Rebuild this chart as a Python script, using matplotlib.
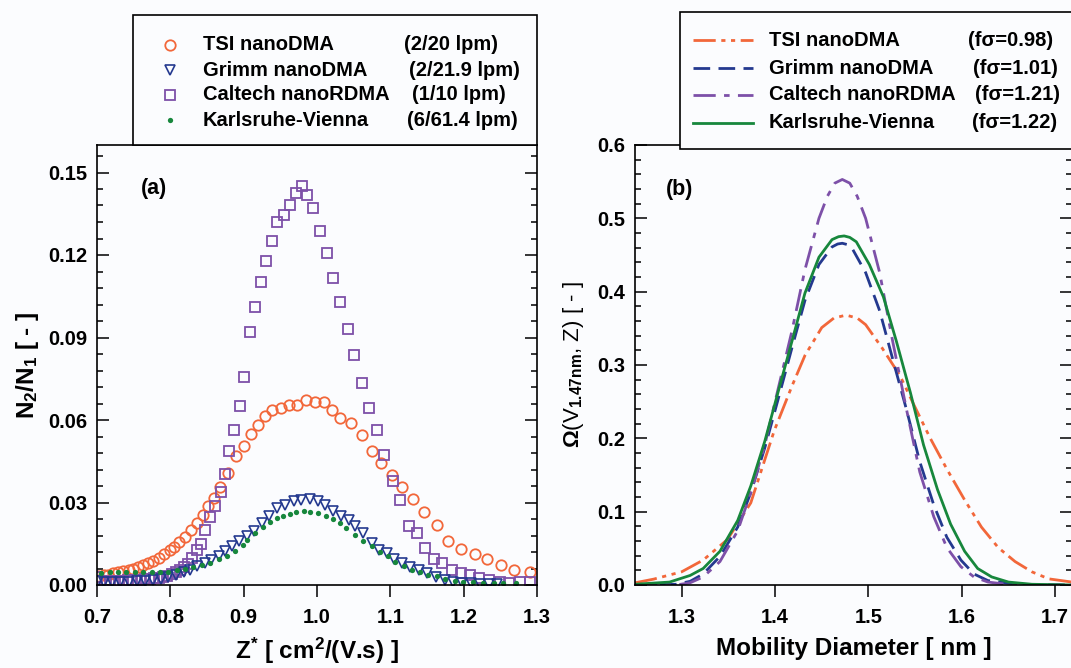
import matplotlib
matplotlib.use('Agg')
import matplotlib.pyplot as plt
from matplotlib.lines import Line2D
from matplotlib.patches import Rectangle
from matplotlib.ticker import MultipleLocator

plt.rcParams['font.family'] = ['Liberation Sans', 'DejaVu Sans']
plt.rcParams['font.weight'] = 'bold'
plt.rcParams['axes.labelweight'] = 'bold'
plt.rcParams['mathtext.fontset'] = 'custom'
plt.rcParams['mathtext.rm'] = 'Liberation Sans'
plt.rcParams['mathtext.bf'] = 'Liberation Sans:bold'
plt.rcParams['mathtext.it'] = 'Liberation Sans:italic'

# ---- panel (a): measured N2/N1 vs Z*
tsi_z = [0.702, 0.709, 0.715, 0.722, 0.729, 0.736, 0.743, 0.749, 0.756, 0.763,
         0.770, 0.777, 0.785, 0.791, 0.799, 0.805, 0.812, 0.820, 0.828, 0.836,
         0.844, 0.852, 0.860, 0.868, 0.879, 0.890, 0.900, 0.910, 0.920, 0.929,
         0.939, 0.951, 0.962, 0.973, 0.985, 0.997, 1.009, 1.020, 1.032, 1.046,
         1.061, 1.075, 1.087, 1.102, 1.116, 1.131, 1.146, 1.163, 1.179, 1.196,
         1.215, 1.232, 1.251, 1.269, 1.290]
tsi_n = [0.0032, 0.0035, 0.0038, 0.0042, 0.0046, 0.0050, 0.0055, 0.0059, 0.0065, 0.0072,
         0.0080, 0.0089, 0.0100, 0.0112, 0.0126, 0.0140, 0.0156, 0.0176, 0.0199, 0.0226,
         0.0255, 0.0286, 0.0318, 0.0357, 0.0407, 0.0468, 0.0504, 0.0550, 0.0583, 0.0615,
         0.0637, 0.0643, 0.0653, 0.0655, 0.0673, 0.0667, 0.0667, 0.0637, 0.0607, 0.0589,
         0.0546, 0.0488, 0.0444, 0.0401, 0.0356, 0.0313, 0.0264, 0.0220, 0.0159, 0.0131,
         0.0111, 0.0095, 0.0071, 0.0056, 0.0046]

grimm_z = [0.702, 0.709, 0.720, 0.731, 0.743, 0.754, 0.766, 0.777, 0.787, 0.797,
           0.808, 0.818, 0.827, 0.837, 0.847, 0.856, 0.866, 0.875, 0.884, 0.893,
           0.904, 0.914, 0.925, 0.935, 0.946, 0.956, 0.968, 0.978, 0.990, 1.001,
           1.011, 1.022, 1.033, 1.043, 1.052, 1.063, 1.075, 1.084, 1.095, 1.105,
           1.116, 1.127, 1.139, 1.150, 1.162, 1.174, 1.186, 1.198, 1.210, 1.222,
           1.234, 1.246]
grimm_n = [0.0014, 0.0010, 0.0010, 0.0010, 0.0012, 0.0014, 0.0016, 0.0020, 0.0023, 0.0030,
           0.0038, 0.0047, 0.0056, 0.0068, 0.0081, 0.0090, 0.0105, 0.0123, 0.0141, 0.0159,
           0.0180, 0.0195, 0.0226, 0.0252, 0.0280, 0.0292, 0.0304, 0.0310, 0.0312, 0.0306,
           0.0292, 0.0268, 0.0252, 0.0238, 0.0216, 0.0189, 0.0151, 0.0129, 0.0117, 0.0095,
           0.0080, 0.0066, 0.0053, 0.0042, 0.0030, 0.0017, 0.0010, 0.0009, 0.0006, 0.0005,
           0.0005, 0.0004]

caltech_z = [0.700, 0.706, 0.712, 0.718, 0.724, 0.730, 0.736, 0.742, 0.748, 0.754,
             0.760, 0.766, 0.772, 0.778, 0.784, 0.790, 0.796, 0.802, 0.808, 0.813,
             0.819, 0.824, 0.830, 0.836, 0.842, 0.847, 0.854, 0.861, 0.869, 0.875,
             0.880, 0.887, 0.895, 0.901, 0.909, 0.916, 0.923, 0.931, 0.939, 0.946,
             0.955, 0.963, 0.971, 0.979, 0.986, 0.995, 1.004, 1.013, 1.022, 1.032,
             1.042, 1.051, 1.061, 1.071, 1.082, 1.092, 1.103, 1.113, 1.125, 1.136,
             1.147, 1.159, 1.171, 1.184, 1.196, 1.209, 1.221, 1.235, 1.249, 1.262,
             1.277, 1.290]
caltech_n = [0.0028, 0.0016, 0.0012, 0.0013, 0.0014, 0.0015, 0.0016, 0.0017, 0.0018, 0.0019,
             0.0020, 0.0021, 0.0023, 0.0025, 0.0027, 0.0030, 0.0034, 0.0039, 0.0046, 0.0055,
             0.0066, 0.0078, 0.0098, 0.0126, 0.0150, 0.0199, 0.0248, 0.0286, 0.0340, 0.0405,
             0.0486, 0.0562, 0.0652, 0.0758, 0.0919, 0.1010, 0.1103, 0.1179, 0.1251, 0.1321,
             0.1345, 0.1381, 0.1427, 0.1451, 0.1420, 0.1371, 0.1287, 0.1208, 0.1118, 0.1028,
             0.0930, 0.0838, 0.0736, 0.0642, 0.0564, 0.0473, 0.0377, 0.0309, 0.0213, 0.0189,
             0.0135, 0.0093, 0.0081, 0.0056, 0.0044, 0.0038, 0.0026, 0.0020, 0.0012, 0.0008,
             0.0010, 0.0010]

kv_z = [0.706, 0.718, 0.729, 0.740, 0.752, 0.763, 0.775, 0.786, 0.797, 0.809,
        0.820, 0.831, 0.843, 0.854, 0.866, 0.877, 0.888, 0.899, 0.904, 0.916,
        0.926, 0.936, 0.946, 0.954, 0.963, 0.972, 0.982, 0.991, 1.002, 1.012,
        1.022, 1.031, 1.040, 1.052, 1.063, 1.075, 1.086, 1.097, 1.106, 1.118,
        1.129, 1.140, 1.152, 1.163, 1.175, 1.188, 1.199, 1.213, 1.227, 1.241,
        1.254, 1.272]
kv_n = [0.0044, 0.0046, 0.0048, 0.0048, 0.0048, 0.0048, 0.0048, 0.0048, 0.0049, 0.0053,
        0.0059, 0.0065, 0.0071, 0.0081, 0.0093, 0.0105, 0.0123, 0.0147, 0.0165, 0.0190,
        0.0210, 0.0228, 0.0244, 0.0252, 0.0260, 0.0264, 0.0268, 0.0264, 0.0262, 0.0252,
        0.0240, 0.0226, 0.0208, 0.0183, 0.0159, 0.0141, 0.0119, 0.0105, 0.0083, 0.0068,
        0.0056, 0.0046, 0.0038, 0.0032, 0.0022, 0.0016, 0.0012, 0.0011, 0.0009, 0.0008,
        0.0006, 0.0006]

# ---- panel (b): transfer functions vs mobility diameter
tsi_d = [1.250, 1.270, 1.300, 1.323, 1.349, 1.374, 1.399, 1.418, 1.432, 1.450,
         1.463, 1.476, 1.488, 1.497, 1.515, 1.534, 1.548, 1.566, 1.584, 1.603,
         1.621, 1.639, 1.657, 1.675, 1.693, 1.718]
tsi_w = [0.003, 0.008, 0.018, 0.034, 0.062, 0.112, 0.210, 0.271, 0.313, 0.351,
         0.364, 0.368, 0.364, 0.355, 0.3225, 0.285, 0.2475, 0.2006, 0.158, 0.116,
         0.079, 0.051, 0.032, 0.018, 0.0084, 0.004]

grimm_d = [1.250, 1.294, 1.309, 1.323, 1.341, 1.360, 1.374, 1.389, 1.403, 1.418,
           1.432, 1.447, 1.461, 1.467, 1.472, 1.478, 1.483, 1.497, 1.512, 1.526,
           1.541, 1.555, 1.570, 1.584, 1.599, 1.613, 1.628, 1.660, 1.718]
grimm_w = [0.0, 0.001, 0.005, 0.015, 0.039, 0.079, 0.126, 0.187, 0.252, 0.323,
           0.388, 0.437, 0.461, 0.465, 0.466, 0.464, 0.458, 0.426, 0.374, 0.308,
           0.238, 0.168, 0.109, 0.065, 0.034, 0.015, 0.006, 0.001, 0.0]

caltech_d = [1.250, 1.294, 1.309, 1.323, 1.341, 1.360, 1.374, 1.389, 1.403, 1.418,
             1.432, 1.447, 1.456, 1.464, 1.472, 1.480, 1.488, 1.497, 1.512, 1.526,
             1.541, 1.555, 1.570, 1.584, 1.599, 1.613, 1.628, 1.655, 1.718]
caltech_w = [0.0, 0.0, 0.003, 0.011, 0.032, 0.074, 0.126, 0.191, 0.266, 0.346,
             0.430, 0.500, 0.530, 0.548, 0.553, 0.548, 0.530, 0.500, 0.426, 0.332,
             0.238, 0.154, 0.093, 0.051, 0.025, 0.011, 0.004, 0.0, 0.0]

kv_d = [1.250, 1.287, 1.309, 1.323, 1.341, 1.360, 1.374, 1.389, 1.403, 1.418,
        1.432, 1.447, 1.461, 1.468, 1.474, 1.480, 1.487, 1.501, 1.516, 1.530,
        1.545, 1.559, 1.574, 1.588, 1.603, 1.617, 1.632, 1.650, 1.675, 1.718]
kv_w = [0.001, 0.004, 0.013, 0.0225, 0.046, 0.088, 0.135, 0.196, 0.262, 0.332,
        0.398, 0.447, 0.471, 0.475, 0.476, 0.474, 0.468, 0.437, 0.393, 0.332,
        0.262, 0.191, 0.130, 0.083, 0.046, 0.0225, 0.011, 0.004, 0.001, 0.0]

names = ['TSI nanoDMA', 'Grimm nanoDMA', 'Caltech nanoRDMA', 'Karlsruhe-Vienna']
flows = ['(2/20 lpm)', '(2/21.9 lpm)', '(1/10 lpm)', '(6/61.4 lpm)']
fsig = ['(f\u03c3=0.98)', '(f\u03c3=1.01)', '(f\u03c3=1.21)', '(f\u03c3=1.22)']

c_tsi = '#f2673a'
c_grimm = '#24398f'
c_cal = '#7d50a8'
c_kv = '#17873c'
bg = '#fbfcfe'

W, H = 1071, 668
fig = plt.figure(figsize=(W / 100, H / 100), dpi=100, facecolor=bg)


def fx(px):
    return px / W


def fy(py):
    return 1 - py / H


ax1 = fig.add_axes([fx(97), fy(585), fx(537) - fx(97), fy(145) - fy(585)], facecolor=bg)
ax2 = fig.add_axes([fx(635), fy(585), fx(1072) - fx(635), fy(145) - fy(585)], facecolor=bg)

ax1.plot(tsi_z, tsi_n, 'o', mfc='none', mec=c_tsi, ms=7.5, mew=1.3)
ax1.plot(caltech_z, caltech_n, 's', mfc='none', mec=c_cal, ms=6.5, mew=1.3)
ax1.plot(grimm_z, grimm_n, 'v', mfc='none', mec=c_grimm, ms=7.5, mew=1.2)
ax1.plot(kv_z, kv_n, 'o', color=c_kv, ms=3.8, mew=0)

ax2.plot(tsi_d, tsi_w, color=c_tsi, lw=2, ls=(0, (8, 2, 1.5, 2, 1.5, 2)))
ax2.plot(grimm_d, grimm_w, color=c_grimm, lw=2, ls=(0, (6, 3)))
ax2.plot(caltech_d, caltech_w, color=c_cal, lw=2, ls=(0, (8, 3, 2, 3)))
ax2.plot(kv_d, kv_w, color=c_kv, lw=2)

ax1.set_xlim(0.7, 1.3)
ax1.set_ylim(0, 0.16)
ax1.xaxis.set_major_locator(MultipleLocator(0.1))
ax1.yaxis.set_major_locator(MultipleLocator(0.03))
ax1.yaxis.set_minor_locator(MultipleLocator(0.006))

ax2.set_xlim(1.25, 1.718)
ax2.set_ylim(0, 0.6)
ax2.xaxis.set_major_locator(MultipleLocator(0.1))
ax2.yaxis.set_major_locator(MultipleLocator(0.1))
ax2.yaxis.set_minor_locator(MultipleLocator(0.02))

for ax in (ax1, ax2):
    ax.tick_params(axis='y', which='both', direction='in', left=True, right=True, pad=7)
    ax.tick_params(axis='x', which='both', direction='out', top=False, pad=8)
    ax.tick_params(which='major', length=8.5, width=1.1, labelsize=14.5)
    ax.tick_params(which='minor', length=4.3, width=1.1)
    for s in ax.spines.values():
        s.set_linewidth(1.2)

ax1.set_xlabel(r'Z$^\mathbf{*}$ [ cm$^\mathbf{2}$/(V.s) ]', fontsize=17.5)
ax1.xaxis.set_label_coords(0.5, -0.115)
ax1.set_ylabel(r'N$_\mathbf{2}$/N$_\mathbf{1}$ [ - ]', fontsize=17.5)
ax1.yaxis.set_label_coords(-0.128, 0.5)

ax2.set_xlabel('Mobility Diameter [ nm ]', fontsize=17.5)
ax2.xaxis.set_label_coords(0.5, -0.118)
ax2.set_ylabel(r'$\Omega$(V$_{\mathrm{1.47nm}}$, Z) [ - ]', fontsize=16, fontweight='normal')
ax2.yaxis.set_label_coords(-0.112, 0.5)

ax1.text(0.1, 0.902, '(a)', transform=ax1.transAxes, fontsize=15.5, va='center', ha='left')
ax2.text(0.071, 0.898, '(b)', transform=ax2.transAxes, fontsize=15.5, va='center', ha='left')

# ---- legend (a)
fig.add_artist(Rectangle((fx(133), fy(145)), fx(537) - fx(133), fy(15) - fy(145),
                         transform=fig.transFigure, facecolor=bg, edgecolor='black',
                         lw=1.2, zorder=5))
rows_a = [45, 70, 95, 120]
flow_x = [404, 409, 412, 407]
mk = [dict(marker='o', mfc='none', mec=c_tsi, ms=7.5, mew=1.3),
      dict(marker='v', mfc='none', mec=c_grimm, ms=7.5, mew=1.2),
      dict(marker='s', mfc='none', mec=c_cal, ms=6.5, mew=1.3),
      dict(marker='o', color=c_kv, ms=3.8, mew=0)]
for i in range(4):
    fig.add_artist(Line2D([fx(170)], [fy(rows_a[i])], ls='none', transform=fig.transFigure,
                          zorder=6, **mk[i]))
    fig.text(fx(203), fy(rows_a[i]), names[i], fontsize=14.5, va='center', ha='left', zorder=6)
    fig.text(fx(flow_x[i]), fy(rows_a[i]), flows[i], fontsize=14.5, va='center', ha='left', zorder=6)

# ---- legend (b)
fig.add_artist(Rectangle((fx(680), fy(149)), fx(1080) - fx(680), fy(12) - fy(149),
                         transform=fig.transFigure, facecolor=bg, edgecolor='black',
                         lw=1.2, zorder=5))
rows_b = [40, 68, 95, 123]
sig_x = [968, 973, 975, 972]
ls_b = [(c_tsi, (0, (8, 2, 1.5, 2, 1.5, 2))), (c_grimm, (0, (6, 3))),
        (c_cal, (0, (8, 3, 2, 3))), (c_kv, '-')]
for i in range(4):
    fig.add_artist(Line2D([fx(693), fx(753)], [fy(rows_b[i])] * 2, color=ls_b[i][0],
                          ls=ls_b[i][1], lw=2, transform=fig.transFigure, zorder=6))
    fig.text(fx(769), fy(rows_b[i]), names[i], fontsize=14.5, va='center', ha='left', zorder=6)
    fig.text(fx(sig_x[i]), fy(rows_b[i]), fsig[i], fontsize=14.5, va='center', ha='left', zorder=6)

fig.savefig('out.png', dpi=100, facecolor=fig.get_facecolor())
